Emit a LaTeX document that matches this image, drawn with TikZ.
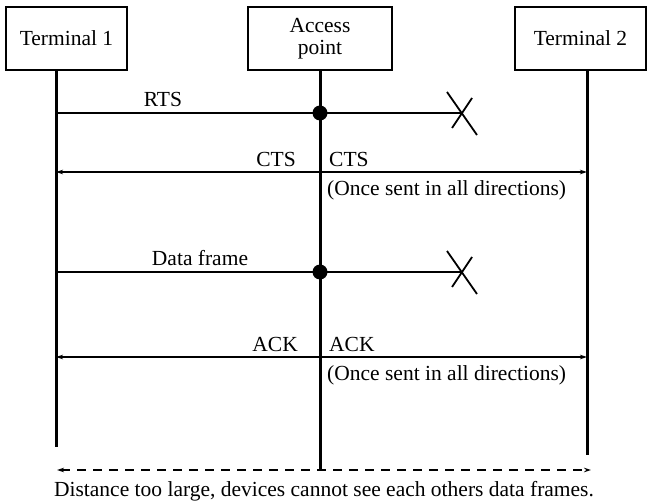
\documentclass[tikz,border=0pt]{standalone}
\usepackage{fontspec}
\setmainfont{Liberation Serif}
\usetikzlibrary{arrows.meta}
\begin{document}
\begin{tikzpicture}[x=1pt,y=-1pt,font=\fontsize{21.5}{22}\selectfont]
\tikzset{
  box/.style={draw,line width=1.5pt,inner sep=0pt,minimum height=63pt,align=center},
  life/.style={line width=3pt},
  msg/.style={line width=2pt},
  dbl/.style={line width=2pt,{Stealth[length=7pt,width=4.5pt]}-{Stealth[length=7pt,width=4.5pt]}},
  dashdbl/.style={line width=1.6pt,dash pattern=on 9pt off 7pt,{Stealth[length=7pt,width=4.5pt]}-{Stealth[length=7pt,width=4.5pt]}},
  lbl/.style={inner sep=0pt,anchor=base},
  lblL/.style={inner sep=0pt,anchor=base east},
  lblR/.style={inner sep=0pt,anchor=base west},
  cross/.style={line width=1.8pt},
  junction/.style={circle,fill,inner sep=0pt,minimum size=15pt}
}
\useasboundingbox (0,0) rectangle (648,502);
% boxes
\node[box,minimum width=121pt] (t1) at (66.5,38.5) {Terminal 1};
\node[box,minimum width=144pt] (ap) at (320,38.5) {Access\\point};
\node[box,minimum width=131pt] (t2) at (580.5,38.5) {Terminal 2};
% lifeline ends
\coordinate (t1b) at (56,447);
\coordinate (apb) at (320,470);
\coordinate (t2b) at (587,455);
\draw[life] (t1.south -| t1b) -- (t1b);
\draw[life] (ap.south) -- (apb);
\draw[life] (t2.south -| t2b) -- (t2b);
% RTS
\coordinate (rtsX) at (462,113);
\draw[msg] (t1b |- rtsX) -- (rtsX);
\node[junction] (j1) at (apb |- rtsX) {};
\draw[cross] (rtsX) ++(-15,-21) -- ++(30,43);
\draw[cross] (rtsX) ++(10,-15) -- ++(-20,30);
\node[lbl] (rtsL) at (163,107) {RTS};
% CTS
\coordinate (ctsY) at (320,172);
\draw[dbl] (t1b |- ctsY) -- (t2b |- ctsY);
\node[lblL] (ctsL) at (296,167) {CTS};
\node[lblR] (ctsR) at (329,167) {CTS};
\node[lblR] (ctsO) at (327,196) {(Once sent in all directions)};
% Data frame
\coordinate (dataX) at (462,272);
\draw[msg] (t1b |- dataX) -- (dataX);
\node[junction] (j2) at (apb |- dataX) {};
\draw[cross] (dataX) ++(-15,-21) -- ++(30,43);
\draw[cross] (dataX) ++(10,-15) -- ++(-20,30);
\node[lbl] (dataL) at (200,266) {Data frame};
% ACK
\coordinate (ackY) at (320,357);
\draw[dbl] (t1b |- ackY) -- (t2b |- ackY);
\node[lblL] (ackL) at (298,352) {ACK};
\node[lblR] (ackR) at (329,352) {ACK};
\node[lblR] (ackO) at (327,381) {(Once sent in all directions)};
% distance
\coordinate (dl) at (57,470);
\coordinate (dr) at (591,470);
\draw[dashdbl] (dl) -- (dr);
\node[lbl] (dist) at (324,496) {Distance too large, devices cannot see each others data frames.};
\end{tikzpicture}
\end{document}
